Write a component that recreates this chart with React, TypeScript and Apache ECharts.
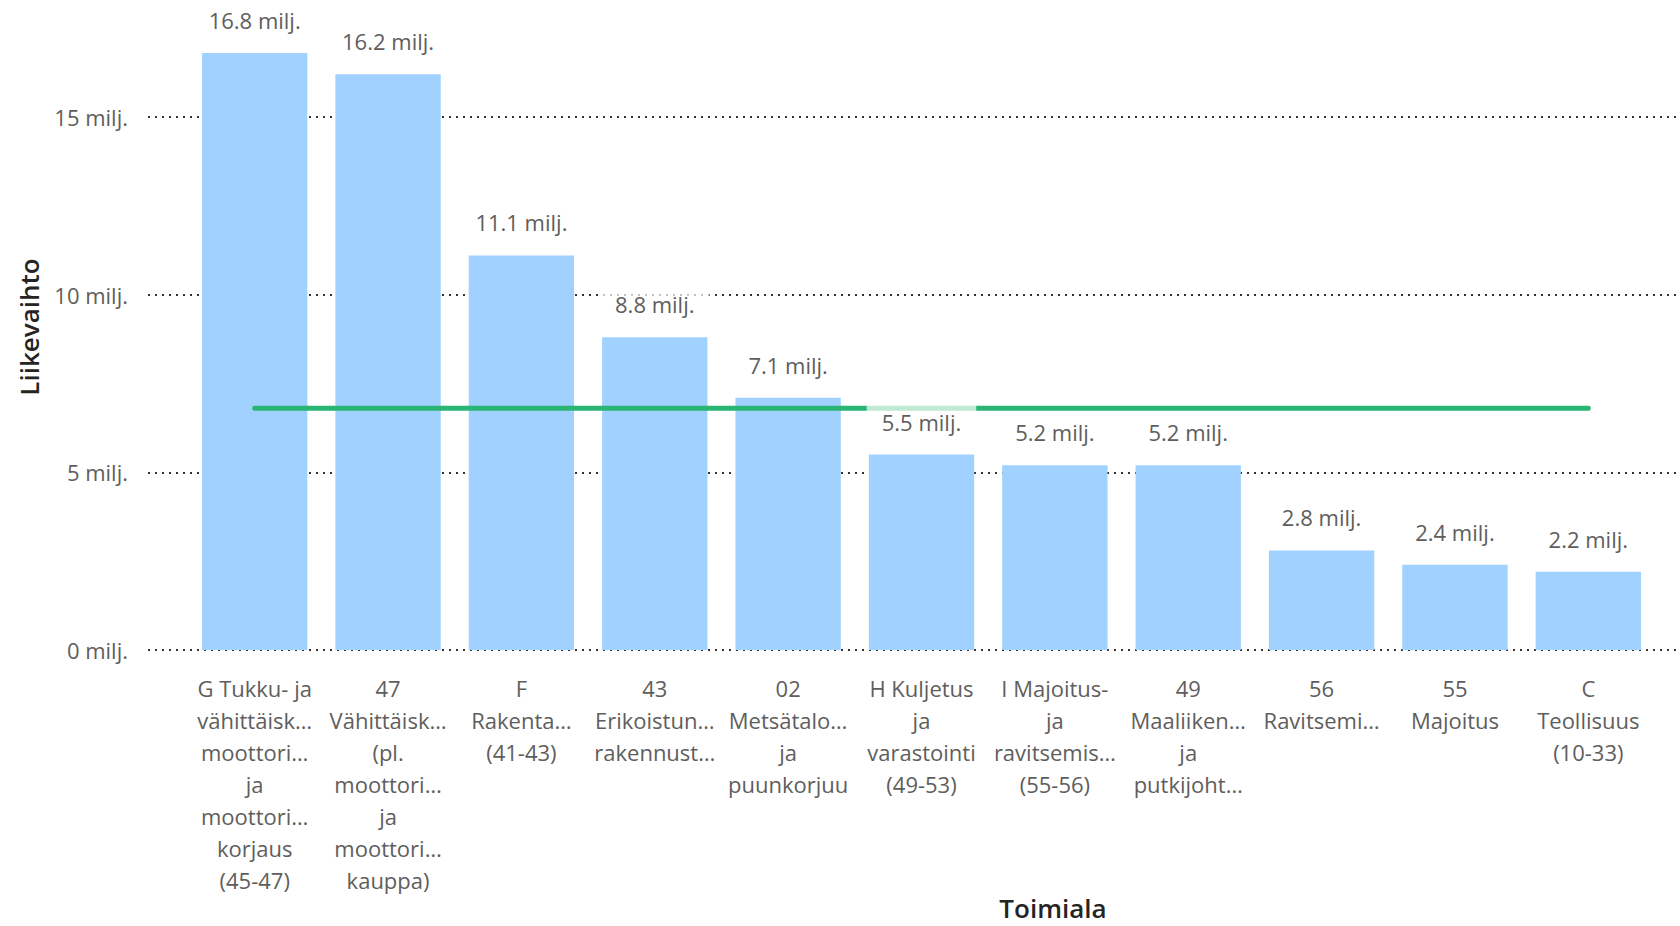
import React, { useEffect, useRef } from "react";
import * as echarts from "echarts";

const categories = [
  "G Tukku- ja\nvähittäisk…\nmoottori…\nja\nmoottori…\nkorjaus\n(45-47)",
  "47\nVähittäisk…\n(pl.\nmoottori…\nja\nmoottori…\nkauppa)",
  "F\nRakenta…\n(41-43)",
  "43\nErikoistun…\nrakennust…",
  "02\nMetsätalo…\nja\npuunkorjuu",
  "H Kuljetus\nja\nvarastointi\n(49-53)",
  "I Majoitus-\nja\nravitsemis…\n(55-56)",
  "49\nMaaliiken…\nja\nputkijoht…",
  "56\nRavitsemi…",
  "55\nMajoitus",
  "C\nTeollisuus\n(10-33)",
];
const values = [16.8, 16.2, 11.1, 8.8, 7.1, 5.5, 5.2, 5.2, 2.8, 2.4, 2.2];
const referenceValue = 6.8;
const yMax = 17.5;
const yInterval = 5;
const yUnit = "milj.";
const xTitle = "Toimiala";
const yTitle = "Liikevaihto";

const FONT = '"Open Sans", "Noto Sans", sans-serif';
const GRAY = "#605E5C";
const DARK = "#252423";

export default function App() {
  const ref = useRef<HTMLDivElement>(null);
  useEffect(() => {
    if (!ref.current) return;
    const chart = echarts.init(ref.current, undefined, { renderer: "svg" });
    const top = 28;
    const bottom = 276;
    chart.setOption({
      animation: false,
      textStyle: { fontFamily: FONT },
      grid: [
        { left: 148, right: 0, top, bottom },
        { left: 188, right: 25, top, bottom },
      ],
      xAxis: [
        { type: "value", gridIndex: 0, show: false, min: 0, max: 1 },
        {
          type: "category",
          gridIndex: 1,
          data: categories,
          axisLine: { show: false },
          axisTick: { show: false },
          axisLabel: {
            interval: 0,
            margin: 22,
            color: GRAY,
            fontFamily: FONT,
            fontSize: 22,
            lineHeight: 32,
            align: "center",
          },
        },
      ],
      yAxis: [
        {
          type: "value",
          gridIndex: 0,
          min: 0,
          max: yMax,
          interval: yInterval,
          axisLine: { show: false },
          axisTick: { show: false },
          axisLabel: {
            showMaxLabel: false,
            margin: 20,
            color: GRAY,
            fontFamily: FONT,
            fontSize: 22,
            formatter: (v: number) => `${v} ${yUnit}`,
          },
          splitLine: {
            show: true,
            showMaxLine: false,
            lineStyle: { color: "#333", width: 2, type: [2, 5] },
          },
        },
        {
          type: "value",
          gridIndex: 1,
          min: 0,
          max: yMax,
          interval: yInterval,
          show: false,
          splitLine: { show: false },
        },
      ],
      graphic: [
        {
          type: "text",
          x: 29,
          y: 327,
          rotation: Math.PI / 2,
          style: {
            text: yTitle,
            font: `600 26px ${FONT}`,
            fill: DARK,
            align: "center",
            verticalAlign: "middle",
          },
        },
        {
          type: "text",
          x: 1053,
          y: 908,
          style: {
            text: xTitle,
            font: `600 26px ${FONT}`,
            fill: DARK,
            align: "center",
            verticalAlign: "middle",
          },
        },
      ],
      series: [
        {
          type: "bar",
          xAxisIndex: 1,
          yAxisIndex: 1,
          data: values,
          barWidth: "79%",
          itemStyle: { color: "#A0D1FF" },
          silent: true,
          z: 2,
        },
        {
          type: "line",
          xAxisIndex: 1,
          yAxisIndex: 1,
          data: categories.map(() => referenceValue),
          symbol: "none",
          lineStyle: { color: "#2BB574", width: 5, cap: "round" },
          silent: true,
          z: 3,
        },
        {
          type: "bar",
          xAxisIndex: 1,
          yAxisIndex: 1,
          data: values,
          barWidth: "79%",
          barGap: "-100%",
          itemStyle: { color: "rgba(0,0,0,0)" },
          silent: true,
          z: 4,
          label: {
            show: true,
            position: "top",
            distance: 18,
            color: GRAY,
            fontFamily: FONT,
            fontSize: 22,
            lineHeight: 26,
            backgroundColor: "rgba(255,255,255,0.7)",
            padding: [5, 15, 2, 15],
            formatter: (p: any) => `${p.value.toFixed(1)} ${yUnit}`,
          },
        },
      ],
    });
    return () => chart.dispose();
  }, []);
  return (
    <div
      ref={ref}
      style={{ position: "fixed", left: 0, top: 0, width: 1680, height: 926, background: "#fff" }}
    />
  );
}
